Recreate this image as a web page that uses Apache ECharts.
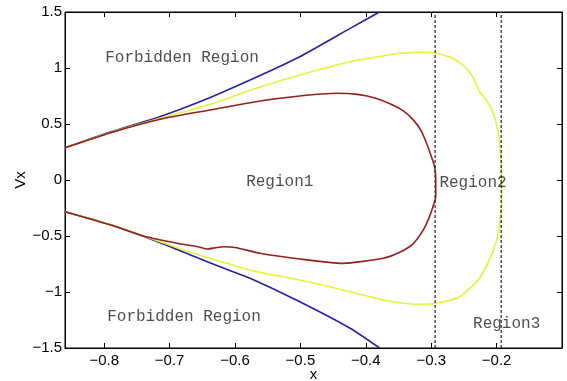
<!DOCTYPE html>
<html><head><meta charset="utf-8">
<script src="https://cdn.jsdelivr.net/npm/echarts@6/dist/echarts.min.js"></script>
<style>html,body{margin:0;padding:0;background:#fff}#c{width:567px;height:381px}</style>
</head><body><div id="c"></div>
<script>
// Axis settings
const xMin = -0.86, xMax = -0.1;
const yMin = -1.5, yMax = 1.5;
const xTicks = [-0.8, -0.7, -0.6, -0.5, -0.4, -0.3, -0.2];
const yTicks = [-1.5, -1, -0.5, 0, 0.5, 1, 1.5];

// Boundary lines (dashed)
const boundaryX = [-0.294, -0.193];

// Blue: forbidden region boundary (upper and lower branches)
const blueUpper = [[-0.86,0.287],[-0.79,0.43],[-0.715,0.565],[-0.653,0.70],[-0.577,0.893],[-0.501,1.101],[-0.424,1.354],[-0.379,1.5]];
const blueLower = [[-0.86,-0.283],[-0.79,-0.40],[-0.7145,-0.56],[-0.664,-0.679],[-0.613,-0.797],[-0.577,-0.878],[-0.501,-1.087],[-0.424,-1.324],[-0.379,-1.5]];

// Yellow curve
const yellowCurve = [[-0.86,0.287],[-0.79,0.425],[-0.7145,0.551],[-0.638,0.676],[-0.57,0.815],[-0.501,0.9375],[-0.424,1.056],[-0.348,1.131],[-0.333,1.137],[-0.318,1.140],[-0.292,1.131],[-0.267,1.087],[-0.246,0.997],[-0.234,0.893],[-0.226,0.788],[-0.217,0.72],[-0.208,0.640],[-0.2005,0.506],[-0.1954,0.328],[-0.1928,0.089],[-0.1919,-0.149],[-0.1939,-0.328],[-0.1985,-0.50],[-0.2057,-0.640],[-0.226,-0.878],[-0.2565,-1.042],[-0.292,-1.101],[-0.3176,-1.110],[-0.348,-1.096],[-0.3736,-1.071],[-0.424,-0.997],[-0.501,-0.893],[-0.57,-0.815],[-0.6127,-0.744],[-0.6637,-0.654],[-0.7145,-0.551],[-0.79,-0.40],[-0.86,-0.283]];

// Red curve
const redCurve = [[-0.86,0.287],[-0.79,0.422],[-0.7145,0.542],[-0.638,0.625],[-0.562,0.705],[-0.501,0.75],[-0.445,0.774],[-0.41,0.762],[-0.385,0.73],[-0.3605,0.675],[-0.342,0.615],[-0.3265,0.53],[-0.3155,0.44],[-0.3073,0.33],[-0.2997,0.208],[-0.2947,0.116],[-0.2931,0],[-0.2931,-0.149],[-0.2973,-0.238],[-0.3035,-0.34],[-0.3125,-0.45],[-0.3278,-0.57],[-0.3481,-0.645],[-0.3736,-0.699],[-0.435,-0.744],[-0.501,-0.705],[-0.562,-0.654],[-0.600,-0.603],[-0.618,-0.596],[-0.630,-0.605],[-0.643,-0.616],[-0.655,-0.598],[-0.689,-0.565],[-0.74,-0.5],[-0.79,-0.402],[-0.86,-0.283]];

// Text labels
const labels = [
  {text:'Forbidden Region', x:-0.7985, y:1.09},
  {text:'Forbidden Region', x:-0.7955, y:-1.217},
  {text:'Region1', x:-0.583, y:-0.018},
  {text:'Region2', x:-0.2875, y:-0.024},
  {text:'Region3', x:-0.236, y:-1.280}
];

const chart = echarts.init(document.getElementById('c'));
const axisCommon = {
  type:'value',
  axisLine:{show:true, onZero:false, lineStyle:{color:'#000', width:1}},
  splitLine:{show:false}
};
function xAx(pos, showLabel){
  return Object.assign({}, axisCommon, {
    position:pos, min:xMin, max:xMax,
    axisTick:{show:true, inside:true, length:5, lineStyle:{color:'#000'}, customValues:xTicks},
    axisLabel:{show:showLabel, customValues:xTicks, color:'#000', fontFamily:'Liberation Sans', fontSize:15, margin:5,
      formatter:v=>String(v).replace('-','\u2212')},
    name: showLabel ? 'x' : '', nameLocation:'middle', nameGap:19, nameMoveOverlap:false,
    nameTextStyle:{color:'#000', fontFamily:'Liberation Sans', fontSize:15, verticalAlign:'top'}
  });
}
function yAx(pos, showLabel){
  return Object.assign({}, axisCommon, {
    position:pos, min:yMin, max:yMax, interval:0.5,
    axisTick:{show:true, inside:true, length:5, lineStyle:{color:'#000'}},
    axisLabel:{show:showLabel, color:'#000', fontFamily:'Liberation Sans', fontSize:15, margin:3,
      formatter:v=>String(v).replace('-','\u2212')},
    name: showLabel ? 'Vx' : '', nameLocation:'middle', nameGap:37, nameRotate:90, nameMoveOverlap:false,
    nameTextStyle:{color:'#000', fontFamily:'Liberation Sans', fontSize:15}
  });
}
function line(data, color){
  return {type:'line', data:data, showSymbol:false, symbol:'none', smooth:0.2, lineStyle:{color:color, width:1.6}, silent:true, animation:false, z:3};
}
const series = [
  line(blueUpper,'#2323a8'),
  line(blueLower,'#2323a8'),
  line(yellowCurve,'#e4f43a'),
  line(redCurve,'#9a1c1c')
];
boundaryX.forEach(bx=>{
  series.push({type:'line', data:[[bx,yMin],[bx,yMax]], symbol:'none', lineStyle:{color:'#333', width:1.3, type:[3,2]}, animation:false, silent:true, z:4});
});
series.push({
  type:'scatter', symbolSize:0, animation:false, silent:true, z:5,
  data: labels.map(l=>({value:[l.x,l.y], name:l.text})),
  label:{show:true, position:'right', distance:0, formatter:p=>p.name, color:'#222', fontFamily:'Liberation Mono', fontSize:16}
});
chart.setOption({
  animation:false,
  backgroundColor:'#fff',
  grid:{left:65, right:5, top:12, bottom:33, outerBoundsMode:'none', containLabel:false, show:true, borderColor:'#000', borderWidth:1, backgroundColor:'transparent'},
  xAxis:[xAx('bottom',true), xAx('top',false)],
  yAxis:[yAx('left',true), yAx('right',false)],
  series:series
});
</script></body></html>
